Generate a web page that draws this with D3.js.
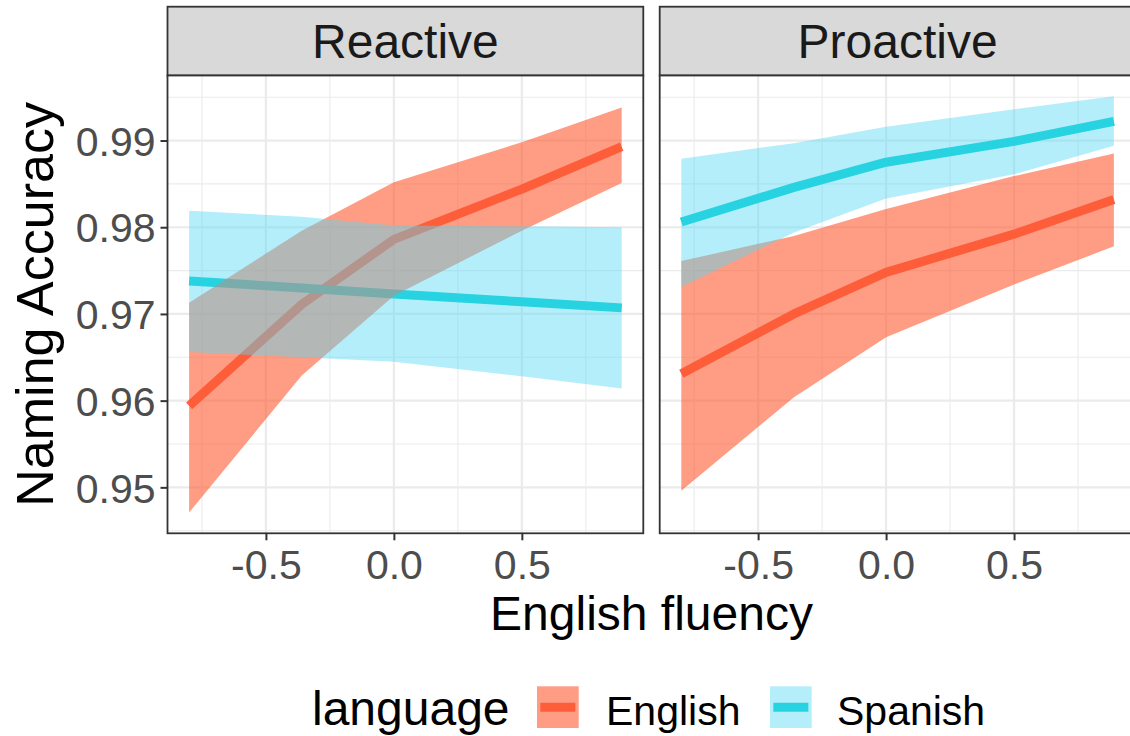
<!DOCTYPE html>
<html>
<head>
<meta charset="utf-8">
<script src="https://cdn.jsdelivr.net/npm/d3@7"></script>
<style>
  html, body { margin: 0; padding: 0; background: #fff; }
  svg { display: block; font-family: "Liberation Sans", Arial, sans-serif; }
</style>
</head>
<body>
<svg id="chart" width="1130" height="736"></svg>
<script>
// ---- data: predicted naming accuracy by English fluency ----
const fluency   = [-0.8, -0.36, 0, 0.5, 0.89];
const panels    = ["Reactive", "Proactive"];
const languages = ["English", "Spanish"];

const reactiveEnglishFit    = [0.9594, 0.9711, 0.9786, 0.9844, 0.9893];
const reactiveEnglishLower  = [0.9471, 0.9629, 0.9721, 0.9796, 0.9851];
const reactiveEnglishUpper  = [0.9713, 0.9796, 0.9852, 0.9898, 0.9938];
const reactiveSpanishFit    = [0.9738, 0.9730, 0.9723, 0.9714, 0.9707];
const reactiveSpanishLower  = [0.9656, 0.9650, 0.9645, 0.9628, 0.9614];
const reactiveSpanishUpper  = [0.9819, 0.9812, 0.9802, 0.9801, 0.9800];

const proactiveEnglishFit   = [0.9631, 0.9700, 0.9748, 0.9792, 0.9832];
const proactiveEnglishLower = [0.9496, 0.9604, 0.9673, 0.9734, 0.9778];
const proactiveEnglishUpper = [0.9761, 0.9790, 0.9821, 0.9859, 0.9885];
const proactiveSpanishFit   = [0.9806, 0.9846, 0.9875, 0.9899, 0.9922];
const proactiveSpanishLower = [0.9731, 0.9794, 0.9833, 0.9861, 0.9894];
const proactiveSpanishUpper = [0.9879, 0.9897, 0.9916, 0.9936, 0.9951];

const xTicks = [-0.5, 0.0, 0.5];
const yTicks = [0.95, 0.96, 0.97, 0.98, 0.99];

// ---- assemble series ----
const raw = {
  Reactive: {
    English: [reactiveEnglishFit, reactiveEnglishLower, reactiveEnglishUpper],
    Spanish: [reactiveSpanishFit, reactiveSpanishLower, reactiveSpanishUpper]
  },
  Proactive: {
    English: [proactiveEnglishFit, proactiveEnglishLower, proactiveEnglishUpper],
    Spanish: [proactiveSpanishFit, proactiveSpanishLower, proactiveSpanishUpper]
  }
};
function rows(p, lang) {
  const [fit, lo, hi] = raw[p][lang];
  return fluency.map((x, i) => ({ x, fit: fit[i], lower: lo[i], upper: hi[i] }));
}

// ---- styling ----
const lineColor = { English: "#FF6347", Spanish: "#00CED1" };
const fillColor = { English: "#FE5A32", Spanish: "#59DAF4" };
const fillAlpha = { English: 0.6, Spanish: 0.45 };
const lineWidth = 9;

// ---- layout ----
const svg = d3.select("#chart");
const stripTop = 6.7, panelTop = 75.5, panelBottom = 533.3, panelW = 475.8;
const panelLefts = [167.5, 659.7];

// scales with 5% expansion on both axes
const xExt = d3.extent(fluency);
const xPad = (xExt[1] - xExt[0]) * 0.05;
const allVals = [];
panels.forEach(p => languages.forEach(l => { allVals.push(...raw[p][l][1], ...raw[p][l][2]); }));
const yExt = d3.extent(allVals);
const yPad = (yExt[1] - yExt[0]) * 0.05;
const y = d3.scaleLinear().domain([yExt[0] - yPad, yExt[1] + yPad]).range([panelBottom, panelTop]);

const xMinor = [-0.75, -0.25, 0.25, 0.75];
const yMinor = d3.range(0.945, 1.0, 0.01).map(v => +v.toFixed(3))
  .filter(v => v > y.domain()[0] && v < y.domain()[1]);

panels.forEach((p, pi) => {
  const left = panelLefts[pi];
  const x = d3.scaleLinear().domain([xExt[0] - xPad, xExt[1] + xPad]).range([left, left + panelW]);
  const g = svg.append("g");

  // strip
  g.append("rect").attr("x", left).attr("y", stripTop)
    .attr("width", panelW).attr("height", panelTop - stripTop)
    .attr("fill", "#D9D9D9").attr("stroke", "#333333").attr("stroke-width", 1.8);
  g.append("text").attr("x", left + panelW / 2).attr("y", 58)
    .attr("text-anchor", "middle").attr("font-size", 48).attr("fill", "#1A1A1A").text(p);

  // panel background
  g.append("rect").attr("x", left).attr("y", panelTop)
    .attr("width", panelW).attr("height", panelBottom - panelTop).attr("fill", "#fff");

  // grid
  const grid = g.append("g").attr("stroke", "#EBEBEB");
  grid.selectAll(".ymin").data(yMinor).join("line")
    .attr("x1", left).attr("x2", left + panelW).attr("y1", d => y(d)).attr("y2", d => y(d))
    .attr("stroke-width", 1.1);
  grid.selectAll(".xmin").data(xMinor).join("line")
    .attr("y1", panelTop).attr("y2", panelBottom).attr("x1", d => x(d)).attr("x2", d => x(d))
    .attr("stroke-width", 1.1);
  grid.selectAll(".ymaj").data(yTicks).join("line")
    .attr("x1", left).attr("x2", left + panelW).attr("y1", d => y(d)).attr("y2", d => y(d))
    .attr("stroke-width", 2.2);
  grid.selectAll(".xmaj").data(xTicks).join("line")
    .attr("y1", panelTop).attr("y2", panelBottom).attr("x1", d => x(d)).attr("x2", d => x(d))
    .attr("stroke-width", 2.2);

  // fitted lines first, then confidence ribbons on top
  const line = d3.line().x(d => x(d.x)).y(d => y(d.fit));
  const area = d3.area().x(d => x(d.x)).y0(d => y(d.lower)).y1(d => y(d.upper));
  languages.forEach(l => {
    g.append("path").datum(rows(p, l)).attr("d", line)
      .attr("fill", "none").attr("stroke", lineColor[l]).attr("stroke-width", lineWidth)
      .attr("stroke-linejoin", "round").attr("stroke-linecap", "butt");
  });
  languages.forEach(l => {
    g.append("path").datum(rows(p, l)).attr("d", area)
      .attr("fill", fillColor[l]).attr("fill-opacity", fillAlpha[l]).attr("stroke", "none");
  });

  // border
  g.append("rect").attr("x", left).attr("y", panelTop)
    .attr("width", panelW).attr("height", panelBottom - panelTop)
    .attr("fill", "none").attr("stroke", "#333333").attr("stroke-width", 1.8);

  // x axis
  const xa = g.append("g").attr("transform", `translate(0,${panelBottom})`)
    .call(d3.axisBottom(x).tickValues(xTicks).tickFormat(d3.format(".1f")).tickSize(7).tickPadding(10));
  xa.select(".domain").remove();
  xa.selectAll("line").attr("stroke", "#333333").attr("stroke-width", 2);
  xa.selectAll("text").attr("font-size", 41).attr("fill", "#4D4D4D")
    .attr("font-family", "Liberation Sans, Arial, sans-serif")
    .text(d => d3.format(".1f")(d).replace("−", "-"));

  // y axis on the first panel only
  if (pi === 0) {
    const ya = g.append("g").attr("transform", `translate(${left},0)`)
      .call(d3.axisLeft(y).tickValues(yTicks).tickFormat(d3.format(".2f")).tickSize(7).tickPadding(5));
    ya.select(".domain").remove();
    ya.selectAll("line").attr("stroke", "#333333").attr("stroke-width", 2);
    ya.selectAll("text").attr("font-size", 41).attr("fill", "#4D4D4D")
      .attr("font-family", "Liberation Sans, Arial, sans-serif").attr("dy", "0.36em");
  }
});

// axis titles
svg.append("text").attr("x", (panelLefts[0] + panelLefts[1] + panelW) / 2).attr("y", 630)
  .attr("text-anchor", "middle").attr("font-size", 48).attr("fill", "#000").text("English fluency");
svg.append("text")
  .attr("transform", `translate(53,${(panelTop + panelBottom) / 2}) rotate(-90)`)
  .attr("text-anchor", "middle").attr("font-size", 52).attr("fill", "#000").text("Naming Accuracy");

// legend
const legend = svg.append("g");
legend.append("text").attr("x", 312).attr("y", 725).attr("font-size", 48).attr("fill", "#000").text("language");
const keyX = { English: 537, Spanish: 770 };
const labelX = { English: 606, Spanish: 837 };
const keyY = 686.3, keySize = 41.7;
languages.forEach(l => {
  const k = legend.append("g");
  k.append("line").attr("x1", keyX[l] + keySize * 0.08).attr("x2", keyX[l] + keySize * 0.92)
    .attr("y1", keyY + keySize / 2).attr("y2", keyY + keySize / 2)
    .attr("stroke", lineColor[l]).attr("stroke-width", lineWidth);
  k.append("rect").attr("x", keyX[l]).attr("y", keyY).attr("width", keySize).attr("height", keySize)
    .attr("fill", fillColor[l]).attr("fill-opacity", fillAlpha[l]);
  legend.append("text").attr("x", labelX[l]).attr("y", 725).attr("font-size", 41).attr("fill", "#000").text(l);
});
</script>
</body>
</html>
